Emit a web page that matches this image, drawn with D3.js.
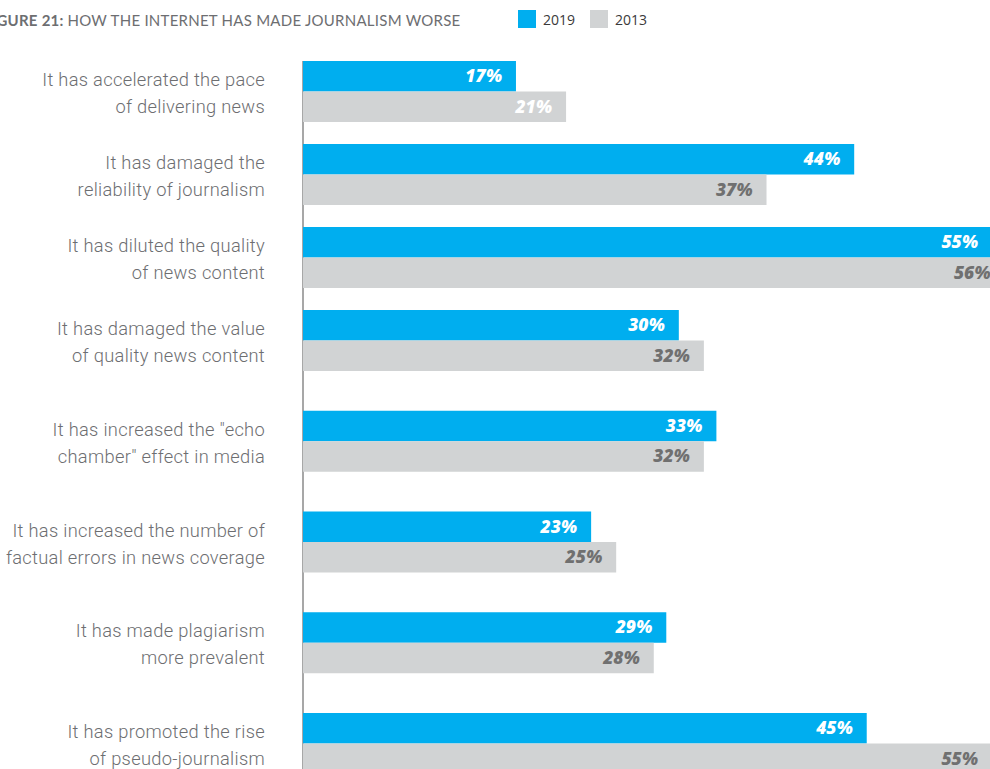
<!doctype html>
<html lang="en">
<head>
<meta charset="UTF-8">
<title>Figure 21</title>
<script src="https://cdn.jsdelivr.net/npm/d3@7"></script>
<style>
    html, body { margin: 0; padding: 0; background: #fff; overflow: hidden; }
    svg { display: block; }
</style>
</head>
<body>
<script>
    var w = 990, h = 769;

    var categories = [
        ["It has accelerated the pace", "of delivering news"],
        ["It has damaged the", "reliability of journalism"],
        ["It has diluted the quality", "of news content"],
        ["It has damaged the value", "of quality news content"],
        ["It has increased the \"echo", "chamber\" effect in media"],
        ["It has increased the number of", "factual errors in news coverage"],
        ["It has made plagiarism", "more prevalent"],
        ["It has promoted the rise", "of pseudo-journalism"]
    ];
    var values2019 = [17, 44, 55, 30, 33, 23, 29, 45];
    var values2013 = [21, 37, 56, 32, 32, 25, 28, 55];
    var seriesNames = ["2019", "2013"];
    var colors = ["#00aeef", "#d1d3d4"];

    var svg = d3.select("body").append("svg").attr("width", w).attr("height", h);

    // bar length scale, runs past the right edge like the original page crop
    var x = d3.scaleLinear().domain([0, 55]).range([303, 992]);
    // group top position; the first four groups sit closer together
    var y = d3.scaleLinear().domain([0, 3, 7]).range([61, 310, 713]);
    var barH = 30.5;

    // title (cropped on the left, as in the source page)
    var title = svg.append("text")
        .attr("x", -17).attr("y", 26)
        .attr("font-family", "Lato, sans-serif")
        .attr("font-size", "15px")
        .attr("letter-spacing", "0.25px")
        .attr("fill", "#6d6e71");
    title.append("tspan").attr("font-weight", 700).text("FIGURE 21: ");
    title.append("tspan").attr("font-weight", 400).text("HOW THE INTERNET HAS MADE JOURNALISM WORSE");

    // legend
    var legend = svg.selectAll("g.legend").data(seriesNames).enter().append("g")
        .attr("class", "legend")
        .attr("transform", function (d, i) { return "translate(" + (518 + i * 72) + ",10)"; });
    legend.append("rect").attr("width", 18).attr("height", 18)
        .attr("fill", function (d, i) { return colors[i]; });
    legend.append("text").attr("x", 25).attr("y", 15)
        .attr("font-family", "'Open Sans', sans-serif")
        .attr("font-size", "14px").attr("fill", "#3a3a3a")
        .text(function (d) { return d; });

    // axis line
    svg.append("line")
        .attr("x1", x(0)).attr("x2", x(0))
        .attr("y1", y(0)).attr("y2", h)
        .attr("stroke", "#8a8a8a").attr("stroke-width", 1.5);

    var groups = svg.selectAll("g.group").data(categories).enter().append("g")
        .attr("class", "group")
        .attr("transform", function (d, i) { return "translate(0," + y(i) + ")"; });

    groups.append("text")
        .attr("text-anchor", "end")
        .attr("font-family", "Roboto, sans-serif")
        .attr("font-weight", 300)
        .attr("font-size", "18.3px")
        .attr("letter-spacing", "0.3px")
        .attr("fill", "#6d6e71")
        .selectAll("tspan").data(function (d) { return d; }).enter().append("tspan")
        .attr("x", 265)
        .attr("y", function (d, i) { return 25 + i * 27; })
        .text(function (d) { return d; });

    var series = [values2019, values2013];
    series.forEach(function (vals, s) {
        svg.selectAll("rect.s" + s).data(vals).enter().append("rect")
            .attr("class", "s" + s)
            .attr("x", x(0))
            .attr("y", function (d, i) { return y(i) + s * barH; })
            .attr("width", function (d) { return x(d) - x(0); })
            .attr("height", barH)
            .attr("fill", colors[s]);

        svg.selectAll("text.v" + s).data(vals).enter().append("text")
            .attr("class", "v" + s)
            .attr("x", function (d) { return x(d) - 14; })
            .attr("y", function (d, i) { return y(i) + s * barH + 21; })
            .attr("text-anchor", "end")
            .attr("font-family", "'Open Sans', sans-serif")
            .attr("font-size", "17.5px")
            .attr("font-weight", 800)
            .attr("font-style", "italic")
            .attr("fill", function (d, i) { return (s === 0 || i === 0) ? "#fff" : "#707070"; })
            .text(function (d) { return d + "%"; });
    });
</script>
</body>
</html>
